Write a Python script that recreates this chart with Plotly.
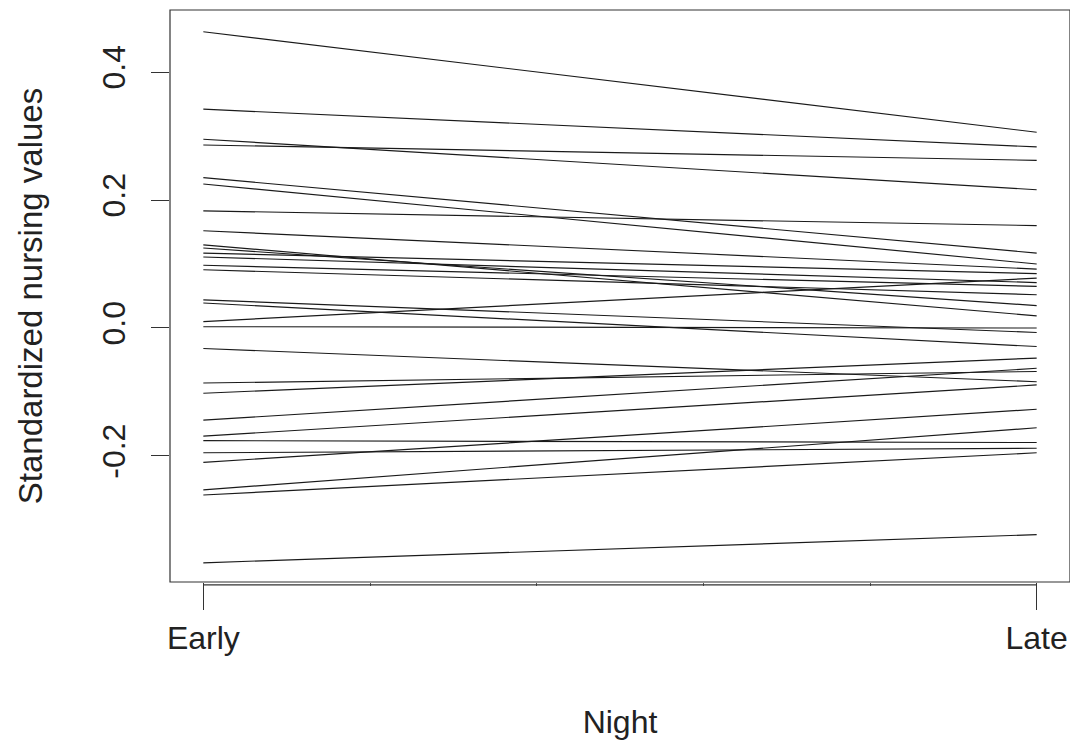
import plotly.graph_objects as go

# Categories on the x axis
nights = ["Early", "Late"]
night_pos = [1, 2]

# Standardized nursing values per individual (Early, Late)
early_values = [0.463, 0.342, 0.295, 0.286, 0.235, 0.225, 0.183, 0.152, 0.130, 0.125,
                0.117, 0.111, 0.098, 0.091, 0.044, 0.039, 0.010, 0.002, -0.032, -0.086,
                -0.102, -0.144, -0.169, -0.176, -0.195, -0.210, -0.253, -0.261, -0.367]
late_values = [0.306, 0.283, 0.216, 0.262, 0.117, 0.100, 0.160, 0.092, 0.019, 0.035,
               0.085, 0.071, 0.065, 0.052, -0.007, -0.029, 0.078, 0.000, -0.084, -0.068,
               -0.047, -0.063, -0.089, -0.179, -0.188, -0.127, -0.156, -0.195, -0.323]

y_ticks = [-0.2, 0.0, 0.2, 0.4]
y_tick_text = ["-0.2", "0.0", "0.2", "0.4"]

FONT = "Liberation Sans, Arial, Helvetica, sans-serif"
INK = "#222222"

fig = go.Figure()
for e, l in zip(early_values, late_values):
    fig.add_trace(go.Scatter(x=night_pos, y=[e, l], mode="lines",
                             line=dict(color="#1a1a1a", width=1.15),
                             showlegend=False, hoverinfo="skip"))

# plot box
fig.add_shape(type="rect", xref="paper", yref="paper", x0=0, x1=1, y0=0, y1=1,
              line=dict(color="#333333", width=1.2), layer="above")
# x axis line (R style, from first to last tick, slightly below the box)
fig.add_shape(type="line", xref="x", yref="paper", x0=night_pos[0], x1=night_pos[-1],
              y0=-0.005, y1=-0.005, line=dict(color="#333333", width=1.2))

fig.update_layout(
    width=1062, height=736,
    margin=dict(l=162, r=0, t=2, b=162),
    paper_bgcolor="white", plot_bgcolor="white",
    font=dict(family=FONT, color=INK, size=32),
    xaxis=dict(range=[0.96, 2.04], tickvals=night_pos, ticktext=nights,
               ticks="outside", ticklen=27, tickwidth=1.2, tickcolor="#333333",
               showline=False, showgrid=False, zeroline=False, automargin=False,
               ticklabelstandoff=1,
               minor=dict(tick0=1, dtick=0.2, ticks="outside", ticklen=3,
                          tickcolor="#555555", showgrid=False),
               tickfont=dict(size=32),
               title=dict(text="Night", font=dict(size=32), standoff=55)),
    yaxis=dict(range=[-0.397, 0.497], tickvals=y_ticks, ticktext=y_tick_text,
               ticks="outside", ticklen=18, tickwidth=1.2, tickcolor="#333333",
               tickangle=-90, showline=False, showgrid=False, zeroline=False,
               automargin=False,
               ticklabelstandoff=13, tickfont=dict(size=32),
               title=dict(text="Standardized nursing values", font=dict(size=33),
                          standoff=43)),
)

fig.write_html("out.html")
